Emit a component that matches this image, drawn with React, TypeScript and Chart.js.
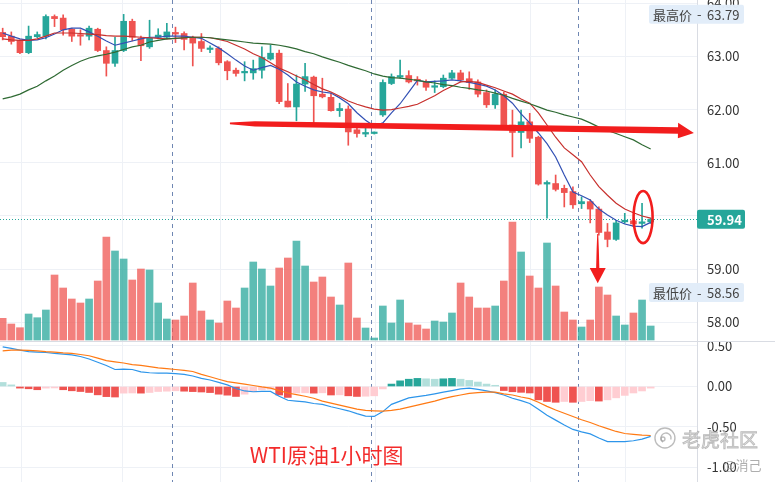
import React, { useEffect, useRef } from "react";
import { Chart, registerables } from "chart.js";

Chart.register(...registerables);

// ---------- data ----------
const opens = [
  63.45, 63.38, 63.30, 63.07, 63.37, 63.38, 63.75, 63.72, 63.51, 63.40,
  63.38, 63.51, 63.11, 62.87, 63.11, 63.66, 63.34, 63.18, 63.36, 63.36,
  63.45, 63.43, 63.36, 63.28, 63.13, 63.15, 62.90, 62.74, 62.69, 62.69,
  62.74, 62.95, 63.06, 62.16, 62.05, 62.48, 62.61, 62.29, 62.23, 61.98,
  62.01, 61.62, 61.54, 61.55, 61.90, 62.49, 62.61, 62.64, 62.57, 62.52,
  62.42, 62.43, 62.59, 62.69, 62.58, 62.52, 62.32, 62.09, 62.29, 61.71,
  61.57, 61.77, 61.48, 60.60, 60.61, 60.52, 60.46, 60.23, 60.27, 60.13,
  59.70, 59.56, 59.89, 59.91, 59.86, 59.89,
];
const highs = [
  63.53, 63.46, 63.31, 63.57, 63.46, 63.78, 63.78, 63.78, 63.53, 63.50,
  63.57, 63.53, 63.18, 63.36, 63.79, 63.70, 63.38, 63.68, 63.52, 63.62,
  63.55, 63.46, 63.38, 63.43, 63.20, 63.18, 62.92, 62.78, 62.90, 62.93,
  63.18, 63.21, 63.12, 62.49, 62.65, 62.87, 62.63, 62.59, 62.31, 62.12,
  62.07, 61.73, 61.65, 61.58, 62.56, 62.67, 62.93, 62.73, 62.62, 62.56,
  62.54, 62.65, 62.74, 62.74, 62.71, 62.56, 62.37, 62.37, 62.33, 61.99,
  61.99, 61.93, 61.50, 60.66, 60.77, 60.58, 60.55, 60.36, 60.31, 60.17,
  59.86, 59.92, 60.05, 59.96, 60.24, 59.96,
];
const lows = [
  63.31, 63.23, 63.05, 63.05, 63.35, 63.33, 63.56, 63.40, 63.28, 63.21,
  63.31, 63.09, 62.63, 62.81, 63.09, 63.29, 62.92, 63.15, 63.33, 63.33,
  63.26, 63.12, 62.82, 63.09, 63.07, 62.84, 62.56, 62.63, 62.54, 62.57,
  62.59, 62.93, 62.11, 62.05, 61.79, 62.34, 61.74, 62.22, 61.97, 61.87,
  61.33, 61.48, 61.49, 61.54, 61.87, 62.47, 62.59, 62.50, 62.46, 62.36,
  62.32, 62.41, 62.57, 62.52, 62.38, 62.24, 62.04, 62.02, 61.67, 61.11,
  61.28, 61.38, 60.58, 59.96, 60.47, 60.17, 60.14, 60.14, 59.87, 59.64,
  59.42, 59.54, 59.86, 59.80, 59.77, 59.86,
];
const closes = [
  63.37, 63.28, 63.07, 63.38, 63.41, 63.75, 63.71, 63.50, 63.38, 63.38,
  63.53, 63.11, 62.87, 63.11, 63.66, 63.36, 63.20, 63.34, 63.40, 63.46,
  63.42, 63.32, 63.25, 63.15, 63.15, 62.88, 62.73, 62.68, 62.71, 62.77,
  62.98, 63.06, 62.15, 62.05, 62.48, 62.62, 62.26, 62.24, 61.98, 62.02,
  61.58, 61.55, 61.57, 61.56, 62.51, 62.62, 62.64, 62.52, 62.54, 62.42,
  62.44, 62.59, 62.69, 62.56, 62.51, 62.29, 62.09, 62.29, 61.69, 61.57,
  61.77, 61.46, 60.60, 60.63, 60.50, 60.44, 60.21, 60.27, 60.13, 59.69,
  59.56, 59.87, 59.92, 59.85, 59.89, 59.94,
];
const volumes = [
  2170, 1600, 1230, 2600, 2230, 3000, 6500, 5200, 4100, 3700,
  4100, 5900, 10300, 8900, 8100, 6000, 7100, 7000, 3700, 2100,
  2000, 2400, 5700, 2900, 2000, 1700, 3900, 3200, 5200, 7800,
  7100, 5400, 7200, 8200, 9900, 7400, 5800, 6300, 4300, 3500,
  7700, 2200, 1200, 200, 3400, 1700, 4000, 1700, 1500, 1100,
  1900, 1800, 2700, 5700, 4300, 3200, 3200, 3400, 5900, 11800,
  8800, 6400, 5200, 9700, 5400, 2800, 2000, 1300, 2000, 5300,
  4500, 2400, 1500, 2700, 4000, 1400,
];
const ma5 = [
  63.44, 63.38, 63.33, 63.30, 63.31, 63.35, 63.42, 63.50, 63.53, 63.53,
  63.46, 63.38, 63.29, 63.21, 63.25, 63.29, 63.33, 63.36, 63.36, 63.38,
  63.38, 63.38, 63.36, 63.34, 63.25, 63.16, 63.05, 62.93, 62.82, 62.74,
  62.79, 62.83, 62.76, 62.65, 62.52, 62.44, 62.37, 62.33, 62.31, 62.22,
  62.11, 61.94, 61.80, 61.69, 61.75, 61.94, 62.11, 62.33, 62.55, 62.52,
  62.53, 62.54, 62.56, 62.54, 62.51, 62.48, 62.44, 62.37, 62.26, 62.12,
  61.92, 61.75, 61.56, 61.36, 61.11, 60.77, 60.45, 60.38, 60.30, 60.13,
  60.02, 59.92, 59.85, 59.81, 59.80, 59.88,
];
const ma10 = [
  63.33, 63.31, 63.30, 63.30, 63.33, 63.38, 63.44, 63.44, 63.44, 63.43,
  63.42, 63.41, 63.39, 63.38, 63.38, 63.37, 63.36, 63.35, 63.34, 63.33,
  63.34, 63.35, 63.36, 63.36, 63.35, 63.32, 63.28, 63.21, 63.14, 63.05,
  62.98, 62.88, 62.78, 62.71, 62.63, 62.56, 62.47, 62.39, 62.33, 62.25,
  62.16, 62.10, 62.05, 62.01, 61.99, 62.00, 62.03, 62.06, 62.10, 62.18,
  62.26, 62.36, 62.44, 62.52, 62.53, 62.51, 62.46, 62.41, 62.35, 62.29,
  62.20, 62.12, 61.94, 61.71, 61.48, 61.28, 61.15, 61.02, 60.77, 60.55,
  60.39, 60.24, 60.13, 60.06, 60.00, 59.96,
];
const ma30 = [
  62.20, 62.24, 62.29, 62.37, 62.44, 62.54, 62.63, 62.74, 62.83, 62.91,
  62.97, 63.01, 63.04, 63.08, 63.13, 63.18, 63.21, 63.27, 63.30, 63.33,
  63.34, 63.35, 63.36, 63.36, 63.35, 63.33, 63.31, 63.29, 63.27, 63.25,
  63.24, 63.23, 63.21, 63.18, 63.14, 63.09, 63.05, 62.99, 62.94, 62.89,
  62.83, 62.78, 62.73, 62.67, 62.63, 62.60, 62.59, 62.57, 62.55, 62.52,
  62.50, 62.47, 62.45, 62.42, 62.40, 62.37, 62.35, 62.31, 62.27, 62.21,
  62.16, 62.11, 62.05, 61.99, 61.95, 61.90, 61.86, 61.82, 61.75, 61.67,
  61.61, 61.55, 61.49, 61.43, 61.34, 61.26,
];
const macdLine = [
  0.49, 0.47, 0.45, 0.43, 0.425, 0.42, 0.41, 0.40, 0.39, 0.37,
  0.34, 0.30, 0.26, 0.21, 0.215, 0.21, 0.18, 0.17, 0.165, 0.165,
  0.16, 0.15, 0.13, 0.10, 0.08, 0.05, 0.02, -0.025, -0.055, -0.065,
  -0.06, -0.06, -0.12, -0.17, -0.18, -0.19, -0.21, -0.22, -0.25, -0.275,
  -0.30, -0.335, -0.365, -0.37, -0.31, -0.22, -0.18, -0.14, -0.125, -0.11,
  -0.09, -0.07, -0.05, -0.03, -0.02, -0.035, -0.055, -0.075, -0.105, -0.145,
  -0.175, -0.21, -0.28, -0.355, -0.415, -0.475, -0.53, -0.56, -0.585, -0.635,
  -0.68, -0.68, -0.68, -0.67, -0.65, -0.615,
];
const signalLine = [
  0.44, 0.45, 0.45, 0.445, 0.44, 0.43, 0.425, 0.415, 0.41, 0.395,
  0.38, 0.35, 0.32, 0.305, 0.29, 0.27, 0.26, 0.245, 0.23, 0.22,
  0.21, 0.20, 0.185, 0.15, 0.12, 0.09, 0.06, 0.045, 0.03, 0.0125,
  -0.005, -0.02, -0.05, -0.08, -0.10, -0.12, -0.145, -0.18, -0.205, -0.23,
  -0.255, -0.28, -0.295, -0.30, -0.305, -0.295, -0.28, -0.255, -0.23, -0.205,
  -0.18, -0.15, -0.125, -0.105, -0.085, -0.075, -0.07, -0.07, -0.09, -0.105,
  -0.13, -0.15, -0.195, -0.245, -0.29, -0.33, -0.37, -0.41, -0.445, -0.485,
  -0.52, -0.555, -0.58, -0.59, -0.60, -0.605,
];
const macdHist = [
  0.05, 0.02, -0.02, -0.028, -0.04, -0.02, -0.018, -0.04, -0.053, -0.062,
  -0.074, -0.103, -0.125, -0.13, -0.082, -0.08, -0.082, -0.074, -0.062, -0.058,
  -0.053, -0.058, -0.063, -0.068, -0.075, -0.095, -0.107, -0.123, -0.095, -0.066,
  -0.041, -0.033, -0.105, -0.135, -0.08, -0.078, -0.082, -0.078, -0.105, -0.103,
  -0.115, -0.123, -0.12, -0.115, -0.03, 0.03, 0.07, 0.09, 0.1, 0.095,
  0.09, 0.095, 0.1, 0.09, 0.075, 0.055, 0.03, 0.015, -0.05, -0.065,
  -0.072, -0.08, -0.165, -0.185, -0.195, -0.185, -0.195, -0.185, -0.175, -0.18,
  -0.165, -0.14, -0.11, -0.08, -0.055, -0.02,
];
const priceTicks = [58, 59, 60, 61, 62, 63, 64];
const macdTicks = [-1, -0.5, 0, 0.5];
const timeGridIdx = [2.2, 13.9, 25.2, 43.1, 61.1, 72.1];
const sessionBreaks = [19.6, 42.6, 66.6];
const lastPrice = 59.94;
const highestPrice = 63.79;
const lowestPrice = 58.56;
const highLabel = "最高价";
const lowLabel = "最低价";
const titleText = "WTI原油1小时图";
const brandText = "老虎社区";
const authorText = "@消己";

// ---------- view / annotation settings ----------
const X_MIN = -0.31;
const X_MAX = 80.36;
const PRICE_MIN = 57.65;
const PRICE_MAX = 64.06;
const MACD_MIN = -1.179;
const MACD_MAX = 0.5617;
const VOL_MIN = -14200;
const VOL_MAX = 34000;
const PRICE_PANE = 341;
const MACD_PANE = 141;
const AXIS_W = 78;

const trendArrow = { start: [26.3, 61.74], end: [78.16, 61.607], tip: [80.0, 61.56] };
const dropArrow = { start: [68.87, 59.66], end: [68.87, 59.02], tip: [68.87, 58.735] };
const ring = { center: [74.12, 59.98], radius: [1.1, 0.49] };
const titlePos = [28.6, -0.944];
const logoPos = [76.65, -0.636];
const brandPos = [78.62, -0.752];
const authorPos = [83.4, -1.03];

const FONT = '"Noto Sans CJK SC", "Noto Sans", sans-serif';
const UP = "#26a69a";
const DOWN = "#ef5350";
const MARK_RED = "#f21d1d";

function rrect(ctx: CanvasRenderingContext2D, x: number, y: number, w: number, h: number, r: number) {
  ctx.beginPath();
  ctx.moveTo(x + r, y);
  ctx.lineTo(x + w - r, y);
  ctx.quadraticCurveTo(x + w, y, x + w, y + r);
  ctx.lineTo(x + w, y + h - r);
  ctx.quadraticCurveTo(x + w, y + h, x + w - r, y + h);
  ctx.lineTo(x + r, y + h);
  ctx.quadraticCurveTo(x, y + h, x, y + h - r);
  ctx.lineTo(x, y + r);
  ctx.quadraticCurveTo(x, y, x + r, y);
  ctx.closePath();
}

function taperedArrow(
  ctx: CanvasRenderingContext2D,
  x0: number, y0: number, x1: number, y1: number, tx: number, ty: number,
  w0: number, w1: number, w2: number, hw: number, bend: number
) {
  const dx = x1 - x0, dy = y1 - y0;
  const len = Math.hypot(dx, dy);
  const ux = dx / len, uy = dy / len;
  const nx = -uy, ny = ux;
  const mx = x0 + ux * bend, my = y0 + uy * bend;
  ctx.beginPath();
  ctx.moveTo(x0 + nx * w0, y0 + ny * w0);
  ctx.lineTo(mx + nx * w1, my + ny * w1);
  ctx.lineTo(x1 + nx * w2, y1 + ny * w2);
  ctx.lineTo(x1 + nx * hw, y1 + ny * hw);
  ctx.lineTo(tx, ty);
  ctx.lineTo(x1 - nx * hw, y1 - ny * hw);
  ctx.lineTo(x1 - nx * w2, y1 - ny * w2);
  ctx.lineTo(mx - nx * w1, my - ny * w1);
  ctx.lineTo(x0 - nx * w0, y0 - ny * w0);
  ctx.closePath();
  ctx.fill();
}

export default function App() {
  const ref = useRef<HTMLCanvasElement>(null);

  useEffect(() => {
    const canvas = ref.current;
    if (!canvas) return;
    const n = closes.length;
    const idx = Array.from({ length: n }, (_, i) => i);
    const isUp = (i: number) => closes[i] >= opens[i];
    const candleColor = idx.map((i) => (isUp(i) ? UP : DOWN));
    const volColor = idx.map((i) => (isUp(i) ? "rgba(38,166,154,0.74)" : "rgba(239,83,80,0.74)"));
    const histColor = idx.map((i) => {
      const h = macdHist[i];
      const prev = i > 0 ? macdHist[i - 1] : h;
      if (h >= 0) return h > prev ? "#26a69a" : "#b2dfdb";
      return h < prev ? "#ef5350" : "#ffcdd2";
    });

    const overlay = {
      id: "overlay",
      beforeDatasetsDraw(chart: any) {
        const { ctx, chartArea, scales } = chart;
        const xs = scales.x, yp = scales.yPrice;
        ctx.save();
        ctx.lineWidth = 1;
        ctx.strokeStyle = "#6f87b3";
        ctx.setLineDash([4, 4]);
        sessionBreaks.forEach((v) => {
          const px = Math.round(xs.getPixelForValue(v)) + 0.5;
          ctx.beginPath();
          ctx.moveTo(px, chartArea.top);
          ctx.lineTo(px, chartArea.bottom);
          ctx.stroke();
        });
        ctx.setLineDash([1, 2]);
        ctx.strokeStyle = UP;
        const py = Math.round(yp.getPixelForValue(lastPrice)) + 0.5;
        ctx.beginPath();
        ctx.moveTo(chartArea.left, py);
        ctx.lineTo(chartArea.right, py);
        ctx.stroke();
        ctx.restore();
      },
      afterDraw(chart: any) {
        const { ctx, scales } = chart;
        const xs = scales.x, yp = scales.yPrice, ym = scales.yMacd;
        const X = (v: number) => xs.getPixelForValue(v);
        const YP = (v: number) => yp.getPixelForValue(v);
        const YM = (v: number) => ym.getPixelForValue(v);
        const axisX = yp.left;
        ctx.save();

        // pane separator
        ctx.strokeStyle = "#d9dce3";
        ctx.lineWidth = 1;
        const sy = Math.round(yp.bottom) + 0.5;
        ctx.beginPath();
        ctx.moveTo(0, sy);
        ctx.lineTo(chart.width, sy);
        ctx.stroke();

        // last price tag
        const ly = YP(lastPrice);
        ctx.fillStyle = UP;
        rrect(ctx, axisX, ly - 9.5, 48, 19, 2);
        ctx.fill();
        ctx.fillStyle = "#ffffff";
        ctx.font = `bold 13px ${FONT}`;
        ctx.textBaseline = "middle";
        ctx.textAlign = "left";
        ctx.fillText(lastPrice.toFixed(2), axisX + 10, ly + 0.5);

        // high / low tags
        const tag = (label: string, price: number) => {
          const ty = YP(price);
          ctx.fillStyle = "rgba(225,236,249,0.97)";
          rrect(ctx, axisX - 48, ty - 9.5, 95, 19, 2);
          ctx.fill();
          ctx.fillStyle = "#444";
          ctx.font = `13px ${FONT}`;
          ctx.textAlign = "left";
          ctx.textBaseline = "middle";
          ctx.fillText(label, axisX - 44, ty + 0.5);
          ctx.fillText("-", axisX, ty);
          ctx.fillText(price.toFixed(2), axisX + 10, ty + 0.5);
        };
        tag(highLabel, highestPrice);
        tag(lowLabel, lowestPrice);

        // red annotations
        ctx.fillStyle = MARK_RED;
        taperedArrow(
          ctx,
          X(trendArrow.start[0]), YP(trendArrow.start[1]),
          X(trendArrow.end[0]), YP(trendArrow.end[1]),
          X(trendArrow.tip[0]), YP(trendArrow.tip[1]),
          0.8, 2.6, 3.3, 7.8, 25
        );
        taperedArrow(
          ctx,
          X(dropArrow.start[0]), YP(dropArrow.start[1]),
          X(dropArrow.end[0]), YP(dropArrow.end[1]),
          X(dropArrow.tip[0]), YP(dropArrow.tip[1]),
          0.5, 1.1, 1.6, 8, 15
        );
        const ecx = X(ring.center[0]);
        const ecy = YP(ring.center[1]);
        const erx = X(ring.center[0] + ring.radius[0]) - ecx;
        const ery = ecy - YP(ring.center[1] + ring.radius[1]);
        ctx.strokeStyle = MARK_RED;
        ctx.lineWidth = 2.6;
        ctx.beginPath();
        ctx.ellipse(ecx, ecy, erx, ery, 0, 0, Math.PI * 2);
        ctx.stroke();

        // title
        ctx.fillStyle = "#f32b2b";
        ctx.font = `21px ${FONT}`;
        ctx.textBaseline = "alphabetic";
        ctx.textAlign = "left";
        ctx.fillText(titleText, X(titlePos[0]), YM(titlePos[1]));

        // watermark
        const lx = X(logoPos[0]), lyy = YM(logoPos[1]);
        ctx.strokeStyle = "rgba(160,160,160,0.7)";
        ctx.lineWidth = 1.4;
        ctx.beginPath();
        ctx.arc(lx, lyy, 10, 0, Math.PI * 2);
        ctx.stroke();
        ctx.beginPath();
        ctx.arc(lx + 1, lyy, 5, Math.PI * 0.7, Math.PI * 2.1);
        ctx.stroke();
        ctx.beginPath();
        ctx.arc(lx - 2, lyy + 1, 2, 0, Math.PI * 2);
        ctx.stroke();
        ctx.font = `19px ${FONT}`;
        ctx.fillStyle = "rgba(215,215,215,0.75)";
        ctx.strokeStyle = "rgba(150,150,150,0.6)";
        ctx.lineWidth = 0.8;
        ctx.fillText(brandText, X(brandPos[0]), YM(brandPos[1]));
        ctx.strokeText(brandText, X(brandPos[0]), YM(brandPos[1]));
        ctx.font = `13px ${FONT}`;
        ctx.fillStyle = "rgba(160,160,160,0.85)";
        ctx.fillText(authorText, X(authorPos[0]), YM(authorPos[1]));

        ctx.restore();
      },
    };

    const tickFont = { family: FONT, size: 13 };

    const chart = new Chart(canvas, {
      type: "bar",
      data: {
        datasets: [
          {
            type: "bar",
            label: "volume",
            yAxisID: "yVol",
            data: idx.map((i) => ({ x: i, y: volumes[i] })),
            backgroundColor: volColor,
            barThickness: 7,
            grouped: false,
            order: 10,
          },
          {
            type: "bar",
            label: "macd hist",
            yAxisID: "yMacd",
            data: idx.map((i) => ({ x: i, y: macdHist[i] })),
            backgroundColor: histColor,
            barThickness: 7,
            grouped: false,
            order: 10,
          },
          {
            type: "bar",
            label: "wick",
            yAxisID: "yPrice",
            data: idx.map((i) => ({ x: i, y: [lows[i], highs[i]] })),
            backgroundColor: candleColor,
            barThickness: 1,
            grouped: false,
            order: 5,
          },
          {
            type: "bar",
            label: "body",
            yAxisID: "yPrice",
            data: idx.map((i) => ({ x: i, y: [Math.min(opens[i], closes[i]), Math.max(opens[i], closes[i])] })),
            backgroundColor: candleColor,
            barThickness: 6,
            minBarLength: 1.5,
            grouped: false,
            order: 4,
          },
          {
            type: "line",
            label: "MA30",
            yAxisID: "yPrice",
            data: idx.map((i) => ({ x: i, y: ma30[i] })),
            borderColor: "#2f6a33",
            borderWidth: 1.2,
            pointRadius: 0,
            order: 1,
          },
          {
            type: "line",
            label: "MA10",
            yAxisID: "yPrice",
            data: idx.map((i) => ({ x: i, y: ma10[i] })),
            borderColor: "#c7302d",
            borderWidth: 1.2,
            pointRadius: 0,
            order: 1,
          },
          {
            type: "line",
            label: "MA5",
            yAxisID: "yPrice",
            data: idx.map((i) => ({ x: i, y: ma5[i] })),
            borderColor: "#3250b4",
            borderWidth: 1.2,
            pointRadius: 0,
            order: 1,
          },
          {
            type: "line",
            label: "Signal",
            yAxisID: "yMacd",
            data: idx.map((i) => ({ x: i, y: signalLine[i] })),
            borderColor: "#ff7a14",
            borderWidth: 1.2,
            pointRadius: 0,
            order: 1,
          },
          {
            type: "line",
            label: "MACD",
            yAxisID: "yMacd",
            data: idx.map((i) => ({ x: i, y: macdLine[i] })),
            borderColor: "#2d95ea",
            borderWidth: 1.2,
            pointRadius: 0,
            order: 1,
          },
        ],
      },
      options: {
        animation: false,
        responsive: false,
        events: [],
        layout: { padding: 0, autoPadding: false },
        plugins: { legend: { display: false }, tooltip: { enabled: false } },
        scales: {
          x: {
            type: "linear",
            min: X_MIN,
            max: X_MAX,
            offset: false,
            afterBuildTicks: (s: any) => {
              s.ticks = timeGridIdx.map((v) => ({ value: v }));
            },
            afterFit: (s: any) => {
              s.height = 0;
              s.paddingLeft = 0;
              s.paddingRight = 0;
            },
            ticks: { display: false },
            grid: { offset: false, drawTicks: false, color: "#eef1f6" },
            border: { display: false },
          },
          yPrice: {
            type: "linear",
            position: "right",
            stack: "pane",
            stackWeight: PRICE_PANE,
            min: PRICE_MIN,
            max: PRICE_MAX,
            afterBuildTicks: (s: any) => {
              s.ticks = priceTicks.map((v) => ({ value: v }));
            },
            afterFit: (s: any) => {
              s.width = AXIS_W;
              s.paddingTop = 0;
              s.paddingBottom = 0;
            },
            ticks: {
              autoSkip: false,
              padding: 10,
              color: "#333",
              font: tickFont,
              callback: (v: any) => Number(v).toFixed(2),
            },
            grid: { drawTicks: false, color: "#eef1f6" },
            border: { display: true, color: "#d9dce3" },
          },
          yMacd: {
            type: "linear",
            position: "right",
            stack: "pane",
            stackWeight: MACD_PANE,
            min: MACD_MIN,
            max: MACD_MAX,
            afterBuildTicks: (s: any) => {
              s.ticks = macdTicks.map((v) => ({ value: v }));
            },
            afterFit: (s: any) => {
              s.width = AXIS_W;
              s.paddingTop = 0;
              s.paddingBottom = 0;
            },
            ticks: {
              autoSkip: false,
              padding: 10,
              color: "#333",
              font: tickFont,
              callback: (v: any) => Number(v).toFixed(2),
            },
            grid: { drawTicks: false, color: "#eef1f6" },
            border: { display: true, color: "#d9dce3" },
          },
          yVol: {
            type: "linear",
            display: false,
            min: VOL_MIN,
            max: VOL_MAX,
          },
        },
      } as any,
      plugins: [overlay],
    } as any);

    return () => chart.destroy();
  }, []);

  return (
    <div style={{ position: "fixed", left: 0, top: 0, width: 775, height: 482, background: "#fff" }}>
      <canvas ref={ref} width={775} height={482} style={{ display: "block", width: 775, height: 482 }} />
    </div>
  );
}
